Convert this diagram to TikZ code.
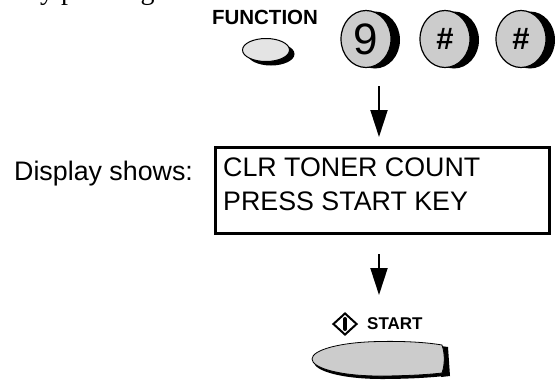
\documentclass[tikz,border=0pt]{standalone}
\usepackage{fontspec}
\setmainfont{Liberation Sans}
\newfontfamily\serifbody{Liberation Serif}
\usetikzlibrary{arrows.meta,shapes.geometric}
\definecolor{keygray}{HTML}{CCCCCC}
\definecolor{fngray}{HTML}{E4E4E4}
\begin{document}
\begin{tikzpicture}[x=1pt,y=-1pt,
  keyface/.style={ellipse,draw=black,line width=1.2pt,fill=keygray,minimum width=50pt,minimum height=57pt,inner sep=0pt},
  arr/.style={line width=2pt,-{Triangle[length=27pt,width=17pt]}},
  txt/.style={inner sep=0pt,anchor=base west},
  disptext/.style={txt,font=\fontsize{26.8}{26.8}\selectfont},
]
\useasboundingbox (0,0) rectangle (556,381);

% cut-off text at top
\node[txt,font=\serifbody\fontsize{28}{28}\selectfont] (top) at (26,-1) {by pressing};

% FUNCTION key
\node[inner sep=0pt,font=\bfseries\fontsize{20.5}{20.5}\selectfont] (fnl) at (265,17) {FUNCTION};
\fill (271,54) ellipse [x radius=23.5pt,y radius=11.5pt];
\node[ellipse,draw=black,line width=1pt,fill=fngray,minimum width=47pt,minimum height=23pt,inner sep=0pt] (fn) at (266,50) {};

% number keys
\foreach \cx in {366,445,521}{
  \fill (\cx+9,40) ellipse [x radius=25pt,y radius=28.5pt];
}
\node[keyface] (k9) at (366,39) {\fontsize{44}{44}\selectfont 9};
\node[keyface] (kh1) at (445,39) {\bfseries\fontsize{31}{31}\selectfont\#};
\node[keyface] (kh2) at (521,39) {\bfseries\fontsize{31}{31}\selectfont\#};

% arrow 1
\coordinate (a1s) at (379,86);
\coordinate (a1e) at (379,137);
\draw[arr] (a1s) -- (a1e);

% display
\node[txt,font=\fontsize{26.8}{26.8}\selectfont] (ds) at (14,180) {Display shows:};
\node[draw=black,line width=3pt,minimum width=334pt,minimum height=86pt,inner sep=0pt] (disp) at (382.5,190.5) {};
\node[disptext] (l1) at (223,176) {CLR TONER COUNT};
\node[disptext] (l2) at (223,210) {PRESS START KEY};

% arrow 2
\coordinate (a2s) at (379,254);
\coordinate (a2e) at (379,295);
\draw[arr] (a2s) -- (a2e);

% START label
\node[diamond,draw=black,line width=2pt,minimum width=24pt,minimum height=22pt,aspect=1.09,inner sep=0pt] (sd) at (345,324) {};
\draw[line width=4pt,line cap=round] (sd.center) ++(0,-5) -- ++(0,10);
\node[txt,font=\bfseries\fontsize{17}{17}\selectfont] (st) at (367,329.5) {START};

% START button
\fill[black,shift={(2,3)}] (442,345) .. controls (425,342) and (400,341) .. (380,341.5)
  .. controls (340,342) and (312,350) .. (312,359)
  .. controls (312,368) and (340,376) .. (380,376)
  .. controls (400,376) and (425,375) .. (442,373)
  .. controls (445,364) and (445,354) .. (442,345) -- cycle;
\fill[black] (441,346) -- (448,347) -- (450,376) -- (441,377) -- cycle;
\draw[line width=0.8pt,fill=keygray] (442,345) .. controls (425,342) and (400,341) .. (380,341.5)
  .. controls (340,342) and (312,350) .. (312,359)
  .. controls (312,368) and (340,376) .. (380,376)
  .. controls (400,376) and (425,375) .. (442,373)
  .. controls (445,364) and (445,354) .. (442,345) -- cycle;
\coordinate (sb) at (380,359);
\end{tikzpicture}
\end{document}
